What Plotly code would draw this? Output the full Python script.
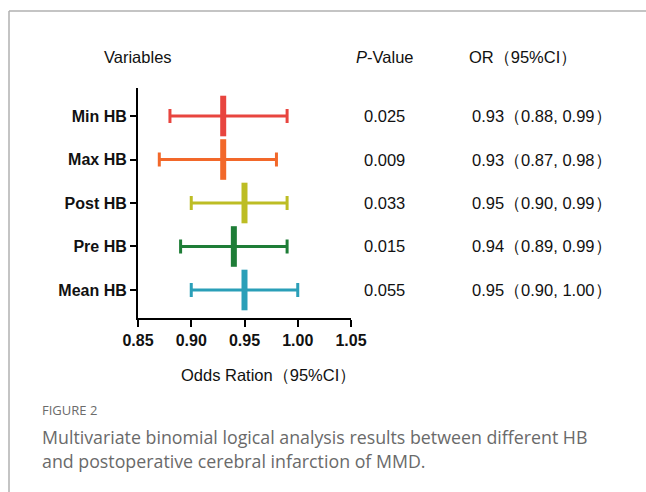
import plotly.graph_objects as go

W, H = 646, 492

variables = ["Min HB", "Max HB", "Post HB", "Pre HB", "Mean HB"]
odds_ratio = [0.93, 0.93, 0.95, 0.94, 0.95]
ci_low = [0.88, 0.87, 0.90, 0.89, 0.90]
ci_high = [0.99, 0.98, 0.99, 0.99, 1.00]
p_values = ["0.025", "0.009", "0.033", "0.015", "0.055"]
or_text = ["0.93（0.88, 0.99）", "0.93（0.87, 0.98）", "0.95（0.90, 0.99）",
           "0.94（0.89, 0.99）", "0.95（0.90, 1.00）"]
colors = ["#E8453F", "#F2682A", "#BDBD24", "#1E7D37", "#2A9FB8"]
x_ticks = [0.85, 0.90, 0.95, 1.00, 1.05]

ypos = [5, 4, 3, 2, 1]

fig = go.Figure()
for i, v in enumerate(variables):
    fig.add_trace(go.Scatter(
        x=[odds_ratio[i]], y=[ypos[i]], mode="markers",
        marker=dict(symbol="line-ns", size=29, color=colors[i],
                    line=dict(width=6, color=colors[i])),
        error_x=dict(type="data", symmetric=False,
                     array=[ci_high[i] - odds_ratio[i]],
                     arrayminus=[odds_ratio[i] - ci_low[i]],
                     color=colors[i], thickness=3, width=7),
        showlegend=False, hoverinfo="skip"))

def px(x):
    return x / W

def py(y):
    return 1 - y / H

row_px = [116, 159.5, 203, 246.5, 290]
font_main = "Liberation Sans, Arial, sans-serif"
ann = []
ann.append(dict(x=px(138), y=py(57), text="Variables", showarrow=False,
                xanchor="center", yanchor="middle",
                font=dict(size=16.5, family=font_main, color="#111")))
ann.append(dict(x=px(385), y=py(57), text="<i>P</i>-Value", showarrow=False,
                xanchor="center", yanchor="middle",
                font=dict(size=16.5, family=font_main, color="#111")))
ann.append(dict(x=px(523), y=py(57), text="OR（95%CI）", showarrow=False,
                xanchor="center", yanchor="middle",
                font=dict(size=16.5, family=font_main, color="#111")))
for i in range(len(variables)):
    ann.append(dict(x=px(362), y=py(row_px[i]), text=p_values[i], showarrow=False,
                    xanchor="left", yanchor="middle",
                    font=dict(size=16.5, family=font_main, color="#111")))
    ann.append(dict(x=px(470), y=py(row_px[i]), text=or_text[i], showarrow=False,
                    xanchor="left", yanchor="middle",
                    font=dict(size=16.5, family=font_main, color="#111")))
ann.append(dict(x=px(268), y=py(375), text="Odds Ration（95%CI）", showarrow=False,
                xanchor="center", yanchor="middle",
                font=dict(size=16.5, family=font_main, color="#111")))
cap_font = "Open Sans, Noto Sans, sans-serif"
ann.append(dict(x=px(40), y=py(410), text="FIGURE 2", showarrow=False,
                xanchor="left", yanchor="middle",
                font=dict(size=13, family=cap_font, color="#6b6b6b")))
ann.append(dict(x=px(40), y=py(437),
                text="Multivariate binomial logical analysis results between different HB",
                showarrow=False, xanchor="left", yanchor="middle",
                font=dict(size=17.8, family=cap_font, color="#6a6a6a")))
ann.append(dict(x=px(40), y=py(461),
                text="and postoperative cerebral infarction of MMD.",
                showarrow=False, xanchor="left", yanchor="middle",
                font=dict(size=17.8, family=cap_font, color="#6a6a6a")))
for a in ann:
    a["xref"] = "paper"
    a["yref"] = "paper"

shapes = [
    dict(type="line", xref="paper", yref="paper", x0=px(9), x1=1.0, y0=py(11), y1=py(11),
         line=dict(color="#b0b0b0", width=1.5)),
    dict(type="line", xref="paper", yref="paper", x0=px(9), x1=px(9), y0=py(11), y1=0.0,
         line=dict(color="#b0b0b0", width=1.5)),
]

fig.update_layout(
    width=W, height=H, margin=dict(l=0, r=0, t=0, b=0, pad=0, autoexpand=False),
    paper_bgcolor="white", plot_bgcolor="white",
    annotations=ann, shapes=shapes,
    xaxis=dict(domain=[px(138), px(351)], range=[0.85, 1.05], automargin=False,
               tickvals=x_ticks, ticktext=[f"{t:.2f}" for t in x_ticks],
               showline=True, linecolor="black", linewidth=2,
               ticks="outside", ticklen=7, tickwidth=2, tickcolor="black",
               showgrid=False, zeroline=False, anchor="y",
               tickfont=dict(size=16, family=font_main, color="#111", weight="bold")),
    yaxis=dict(domain=[py(318), py(88)], range=[0.356, 5.644], automargin=False,
               tickvals=ypos, ticktext=variables,
               showline=True, linecolor="black", linewidth=2,
               ticks="outside", ticklen=6, tickwidth=2, tickcolor="black",
               showgrid=False, zeroline=False, anchor="x",
               tickfont=dict(size=16, family=font_main, color="#111", weight="bold")),
)

fig.write_html("out.html")
